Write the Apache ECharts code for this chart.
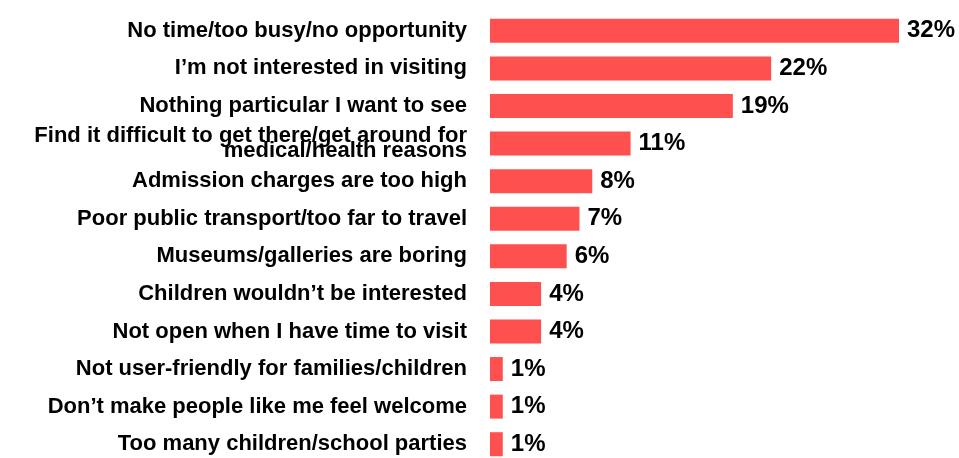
<!DOCTYPE html>
<html>
<head>
<meta charset="utf-8">
<script src="https://cdn.jsdelivr.net/npm/echarts@6/dist/echarts.min.js"></script>
<style>
  html, body { margin: 0; padding: 0; background: #ffffff; }
  #chart { width: 959px; height: 458px; }
</style>
</head>
<body>
<div id="chart"></div>
<script>
// Reasons for not visiting museums/galleries (% of respondents)
const categories = [
  'No time/too busy/no opportunity',
  'I\u2019m not interested in visiting',
  'Nothing particular I want to see',
  'Find it difficult to get there/get around for\nmedical/health reasons',
  'Admission charges are too high',
  'Poor public transport/too far to travel',
  'Museums/galleries are boring',
  'Children wouldn\u2019t be interested',
  'Not open when I have time to visit',
  'Not user-friendly for families/children',
  'Don\u2019t make people like me feel welcome',
  'Too many children/school parties'
];
const values = [32, 22, 19, 11, 8, 7, 6, 4, 4, 1, 1, 1];

const FONT = '"Liberation Sans", Arial, Helvetica, sans-serif';

const yData = categories.map(function (c) {
  if (c.indexOf('\n') >= 0) {
    return { value: c, textStyle: { lineHeight: 15, padding: [0, 0, 8, 0] } };
  }
  return c;
});

const chart = echarts.init(document.getElementById('chart'), null, { renderer: 'canvas' });
chart.setOption({
  animation: false,
  backgroundColor: '#ffffff',
  grid: {
    left: 490, right: 60, top: 12, bottom: -5,
    containLabel: false,
    outerBoundsMode: 'none'
  },
  xAxis: {
    type: 'value', min: 0, max: 32, show: false
  },
  yAxis: {
    type: 'category',
    inverse: true,
    data: yData,
    axisLine: { show: false },
    axisTick: { show: false },
    splitLine: { show: false },
    axisLabel: {
      margin: 23,
      color: '#000000',
      fontFamily: FONT,
      fontWeight: 'bold',
      fontSize: 22,
      align: 'right'
    }
  },
  series: [{
    type: 'bar',
    data: values,
    barWidth: 24,
    itemStyle: { color: '#ff5050' },
    label: {
      show: true,
      position: 'right',
      distance: 8,
      formatter: '{c}%',
      color: '#000000',
      fontFamily: FONT,
      fontWeight: 'bold',
      fontSize: 24
    }
  }]
});
</script>
</body>
</html>
